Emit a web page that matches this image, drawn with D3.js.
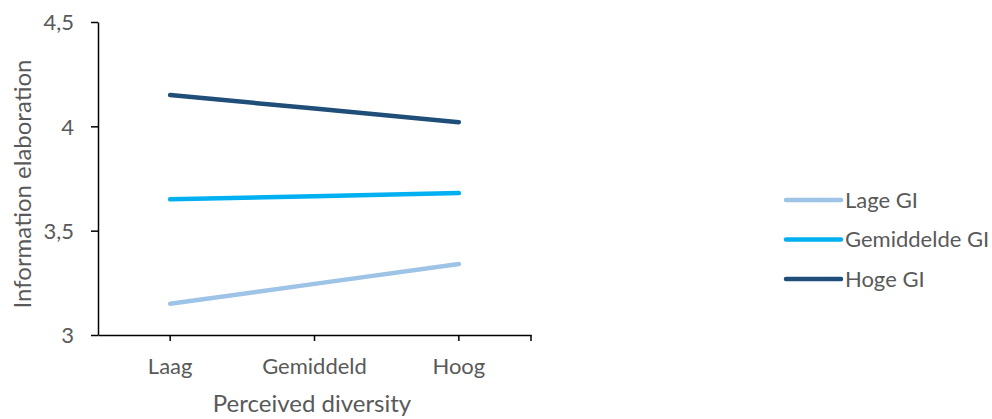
<!DOCTYPE html>
<html>
<head>
<meta charset="utf-8">
<script src="https://cdn.jsdelivr.net/npm/d3@7"></script>
<style>
  html, body { margin: 0; padding: 0; background: #fff; }
  svg text { font-family: Lato, "Open Sans", sans-serif; fill: #595959; }
</style>
</head>
<body>
<svg id="chart" width="992" height="419"></svg>
<script>
// Perceived diversity levels on the x axis
const categories = ["Laag", "Gemiddeld", "Hoog"];
// Series names (GI levels)
const seriesNames = ["Lage GI", "Gemiddelde GI", "Hoge GI"];
// Information elaboration per series, per diversity level
const lageGI = [3.15, 3.245, 3.34];
const gemiddeldeGI = [3.65, 3.665, 3.68];
const hogeGI = [4.15, 4.085, 4.02];
// Y tick values and their labels
const yTicks = [3, 3.5, 4, 4.5];
const yTickLabels = ["3", "3,5", "4", "4,5"];
const xTitle = "Perceived diversity";
const yTitle = "Information elaboration";

const colors = ["#9DC3E6", "#00B0F0", "#1F4E79"];
const series = [lageGI, gemiddeldeGI, hogeGI].map((v, i) => ({ name: seriesNames[i], values: v, color: colors[i] }));

const svg = d3.select("#chart");
const plotLeft = 98, plotRight = 531, plotTop = 22, plotBottom = 335;

const x = d3.scaleBand().domain(categories).range([plotLeft, plotRight]);
const y = d3.scaleLinear().domain([3, 4.5]).range([plotBottom, plotTop]);

// Y axis
const yAxis = d3.axisLeft(y).tickValues(yTicks).tickSize(7).tickSizeOuter(0)
  .tickFormat((d, i) => yTickLabels[i]);
const gy = svg.append("g").attr("transform", `translate(${plotLeft},0)`).call(yAxis);
gy.select(".domain").attr("stroke", "#000").attr("stroke-width", 1.5);
gy.selectAll(".tick line").attr("stroke", "#000").attr("stroke-width", 1.5);
gy.selectAll(".tick text").attr("font-size", 22).attr("x", -24).attr("dy", "0.35em")
  .style("font-family", "Lato, sans-serif").attr("fill", "#595959");

// X axis with ticks at category centres plus closing tick at the right end
const xAxis = d3.axisBottom(x).tickSize(6).tickSizeOuter(0);
const gx = svg.append("g").attr("transform", `translate(0,${plotBottom})`).call(xAxis);
gx.select(".domain").attr("stroke", "#000").attr("stroke-width", 1.5);
gx.selectAll(".tick line").attr("stroke", "#000").attr("stroke-width", 1.5);
gx.selectAll(".tick text").attr("font-size", 22).attr("y", 39).attr("dy", 0)
  .style("font-family", "Lato, sans-serif").attr("fill", "#595959");
gx.append("line").attr("x1", plotRight).attr("x2", plotRight).attr("y1", 0).attr("y2", 6)
  .attr("stroke", "#000").attr("stroke-width", 1.5);

// Axis titles
svg.append("text").attr("x", 312).attr("y", 412)
  .attr("text-anchor", "middle").attr("font-size", 24).text(xTitle);
svg.append("text").attr("transform", `translate(31,184) rotate(-90)`)
  .attr("text-anchor", "middle").attr("font-size", 24).text(yTitle);

// Series lines
const line = d3.line().x((d, i) => x(categories[i]) + x.bandwidth() / 2).y(d => y(d));
svg.append("g").selectAll("path").data(series).join("path")
  .attr("d", d => line(d.values))
  .attr("fill", "none").attr("stroke", d => d.color)
  .attr("stroke-width", 4.5).attr("stroke-linecap", "round");

// Legend
const legend = svg.append("g").selectAll("g").data(series).join("g")
  .attr("transform", (d, i) => `translate(786,${200 + i * 39.5})`);
legend.append("line").attr("x1", 0).attr("x2", 55).attr("y1", 0).attr("y2", 0)
  .attr("stroke", d => d.color).attr("stroke-width", 4.5).attr("stroke-linecap", "round");
legend.append("text").attr("x", 59).attr("dy", "0.35em").attr("font-size", 22).text(d => d.name);
</script>
</body>
</html>
